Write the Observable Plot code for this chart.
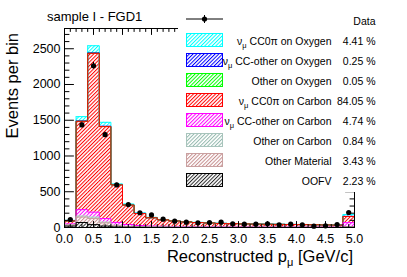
<!DOCTYPE html>
<html><head><meta charset="utf-8">
<script src="https://cdn.jsdelivr.net/npm/d3@7"></script>
<script src="https://cdn.jsdelivr.net/npm/@observablehq/plot@0.6"></script>
<style>html,body{margin:0;padding:0;background:#fff;} svg{display:block}</style>
</head><body><div id="chart"></div>
<script>
// ---- data ----
const binLow = [0.0,0.2,0.4,0.6,0.8,1.0,1.2,1.4,1.6,1.8,2.0,2.2,2.4,2.6,2.8,3.0,3.2,3.4,3.6,3.8,4.0,4.2,4.4,4.6,4.8];
const binWidth = 0.2;
const oofv     = [20,70,40,20, 8,  4,  3,  2, 2, 1, 1, 1, 1, 1, 1, 1, 1, 1, 1, 1, 1, 1, 1, 1, 3];
const otherMat = [15,75,85,45,18, 10,  7,  5, 4, 4, 3, 3, 3, 2, 2, 2, 2, 2, 2, 2, 2, 1, 1, 1, 8];
const otherC   = [ 3,15,20,10, 5,  3,  2,  1, 1, 1, 1, 1, 0, 0, 0, 0, 0, 0, 0, 0, 0, 0, 0, 0, 2];
const ccOtherC = [12,90,70,50,40, 25, 16, 12, 9, 7, 6, 5, 5, 4, 4, 4, 3, 3, 3, 3, 3, 3, 3, 3,55];
const cc0piC   = [42,1235,2220,1286,525,272,168,116,91,78,67,59,54,50,47,43,42,40,38,36,34,33,31,29,86];
const otherO   = [ 0, 1, 2, 1, 0,  0,  0,  0, 0, 0, 0, 0, 0, 0, 0, 0, 0, 0, 0, 0, 0, 0, 0, 0, 0];
const ccOtherO = [ 1, 5, 6, 4, 2,  1,  1,  0, 0, 0, 0, 0, 0, 0, 0, 0, 0, 0, 0, 0, 0, 0, 0, 0, 2];
const cc0piO   = [ 7,60,99,55,12, 13,  8,  6, 5, 4, 4, 3, 3, 3, 2, 2, 2, 2, 2, 2, 2, 2, 2, 2,26];
const dataVals = [112,1435,2262,1298,595,321,206,176,116,88,74,65,70,74,51,47,47,51,37,47,37,19,23,42,210];

const legendLabels = [
  ["ν","μ"," CC0π on Oxygen"],
  ["ν","μ"," CC-other on Oxygen"],
  ["","","Other on Oxygen"],
  ["ν","μ"," CC0π on Carbon"],
  ["ν","μ"," CC-other on Carbon"],
  ["","","Other on Carbon"],
  ["","","Other Material"],
  ["","","OOFV"]
];
const legendPcts = ["4.41 %","0.25 %","0.05 %","84.05 %","4.74 %","0.84 %","3.43 %","2.23 %"];
const yMajor = [0,500,1000,1500,2000,2500];
const xMajor = [0,0.5,1,1.5,2,2.5,3,3.5,4,4.5,5];

// stack order bottom -> top
const stack = [oofv, otherMat, otherC, ccOtherC, cc0piC, otherO, ccOtherO, cc0piO];
const hatchCol = ["#2a2a2a","#c58e8e","#93b8ad","#ff00ff","#ff0000","#00ff00","#0000ff","#00ffff"];
const lineCol  = ["#000000","#c9a0a0","#a8c4bc","#ff00ff","#ff0000","#00ff00","#0000ff","#00ffff"];

// cumulative build
const cum = [];
let prev = binLow.map(() => 0);
stack.forEach((vals, k) => {
  const top = vals.map((v, i) => prev[i] + v);
  cum.push({bottom: prev, top});
  prev = top;
});
const rectMarks = [];
const lineMarks = [];
stack.forEach((vals, k) => {
  const rows = binLow.map((x, i) => ({x1: x, x2: x + binWidth, y1: cum[k].bottom[i], y2: cum[k].top[i]})).filter(d => d.y2 > d.y1);
  rectMarks.push(Plot.rect(rows, {x1: "x1", x2: "x2", y1: "y1", y2: "y2", fill: `url(#hatch${k})`}));
});
for (let k = stack.length - 1; k >= 0; k--) {
  const t = cum[k].top;
  const pts = [{x: binLow[0], y: 0}];
  binLow.forEach((x, i) => pts.push({x, y: t[i]}));
  pts.push({x: binLow[binLow.length-1] + binWidth, y: t[t.length-1]});
  pts.push({x: binLow[binLow.length-1] + binWidth, y: 0});
  lineMarks.push(Plot.line(pts, {x: "x", y: "y", curve: "step-after", stroke: lineCol[k], strokeWidth: 1}));
}

const pts = binLow.map((x, i) => ({x: x + binWidth/2, v: dataVals[i], lo: dataVals[i] - Math.sqrt(dataVals[i]), hi: dataVals[i] + Math.sqrt(dataVals[i])}));

const tickShape = {draw(context, l) { context.moveTo(0, 0); context.lineTo(0, -l); }};
const yMinor = d3.range(0, 2800, 100).filter(v => v % 500 !== 0);
const xMinor = d3.range(0, 51).map(v => v / 10).filter(v => Math.round(v * 10) % 5 !== 0);
const yMax = 2783;

function ticksMarks() {
  const m = [];
  const vy = (vals, x, rot, len) => Plot.vector(vals, {x: () => x, y: d => d, rotate: rot, length: len, anchor: "start", shape: tickShape, stroke: "black", strokeWidth: 1});
  const vx = (vals, y, rot, len) => Plot.vector(vals, {x: d => d, y: () => y, rotate: rot, length: len, anchor: "start", shape: tickShape, stroke: "black", strokeWidth: 1});
  m.push(vy(yMajor, 0, 90, 9), vy(yMinor, 0, 90, 4.5));
  m.push(vy(yMajor, 5, -90, 9), vy(yMinor, 5, -90, 4.5));
  m.push(vx(xMajor, 0, 0, 6), vx(xMinor, 0, 0, 3));
  m.push(vx(xMajor, yMax, 180, 6), vx(xMinor, yMax, 180, 3));
  return m;
}

const chart = Plot.plot({
  width: 407, height: 277,
  marginLeft: 64, marginRight: 53, marginTop: 28, marginBottom: 50,
  x: {domain: [0, 5]},
  y: {domain: [0, yMax]},
  style: {fontFamily: "'Liberation Sans', Arial, Helvetica, sans-serif", background: "white", color: "black"},
  marks: [
    ...rectMarks,
    ...lineMarks,
    Plot.ruleX(pts, {x: "x", y1: "lo", y2: "hi", stroke: "black", strokeWidth: 1}),
    Plot.dot(pts, {x: "x", y: "v", r: 2.6, fill: "black", stroke: "none"}),
    Plot.frame({stroke: "black", strokeWidth: 1}),
    ...ticksMarks(),
    Plot.axisY({anchor: "left", ticks: yMajor, tickSize: 0, tickPadding: 4, label: null, fontSize: 12.5, tickFormat: d3.format("d")}),
    Plot.axisX({anchor: "bottom", ticks: xMajor, tickSize: 0, tickPadding: 6.5, label: null, fontSize: 12.5, tickFormat: d3.format(".1f")})
  ]
});
document.getElementById("chart").appendChild(chart);

// ---- patterns ----
const svg = d3.select(chart);
const defs = svg.insert("defs", ":first-child");
hatchCol.forEach((c, k) => {
  const p = defs.append("pattern").attr("id", `hatch${k}`).attr("patternUnits", "userSpaceOnUse")
    .attr("width", 2.6).attr("height", 2.6).attr("patternTransform", "rotate(45)");
  p.append("rect").attr("x", 0).attr("y", 0).attr("width", 1).attr("height", 2.6).attr("fill", c);
});

const ff = "'Liberation Sans', Arial, Helvetica, sans-serif";
// title
svg.append("text").attr("x", 47).attr("y", 21).attr("text-anchor", "start").attr("font-size", 13).attr("font-family", ff).text("sample I - FGD1");
// y title
svg.append("text").attr("transform", "translate(18,33) rotate(-90)").attr("text-anchor", "end")
  .attr("font-size", 16.5).attr("font-family", ff).text("Events per bin");
// x title
const xt = svg.append("text").attr("x", 353).attr("y", 262).attr("text-anchor", "end").attr("font-size", 16.5).attr("font-family", ff);
xt.append("tspan").text("Reconstructed p");
xt.append("tspan").attr("font-size", 11).attr("dy", 4).text("μ");
xt.append("tspan").attr("dy", -4).text(" [GeV/c]");

// legend
const lg = svg.append("g").attr("font-family", ff).attr("font-size", 10.5);
lg.append("rect").attr("x", 178).attr("y", 6).attr("width", 225).attr("height", 186).attr("fill", "white");
lg.append("line").attr("x1", 186).attr("x2", 223).attr("y1", 19).attr("y2", 19).attr("stroke", "black");
lg.append("line").attr("x1", 204.5).attr("x2", 204.5).attr("y1", 15).attr("y2", 23).attr("stroke", "black");
lg.append("circle").attr("cx", 204.5).attr("cy", 19).attr("r", 2.6).attr("fill", "black");
lg.append("text").attr("x", 375.5).attr("y", 24.5).attr("text-anchor", "end").text("Data");
legendLabels.forEach((lab, i) => {
  const k = stack.length - 1 - i;
  const base = 45 + 20 * i;
  lg.append("rect").attr("x", 186.5).attr("y", base - 11.5).attr("width", 36).attr("height", 13)
    .attr("fill", `url(#hatch${k})`).attr("stroke", lineCol[k]).attr("stroke-width", 1);
  const t = lg.append("text").attr("x", 331.5).attr("y", base).attr("text-anchor", "end");
  if (lab[0]) {
    t.append("tspan").text(lab[0]);
    t.append("tspan").attr("font-size", 7.5).attr("dy", 2.5).text(lab[1]);
    t.append("tspan").attr("dy", -2.5).text(lab[2]);
  } else {
    t.append("tspan").text(lab[2]);
  }
  lg.append("text").attr("x", 375.5).attr("y", base).attr("text-anchor", "end").text(legendPcts[i]);
});
</script>
</body></html>
